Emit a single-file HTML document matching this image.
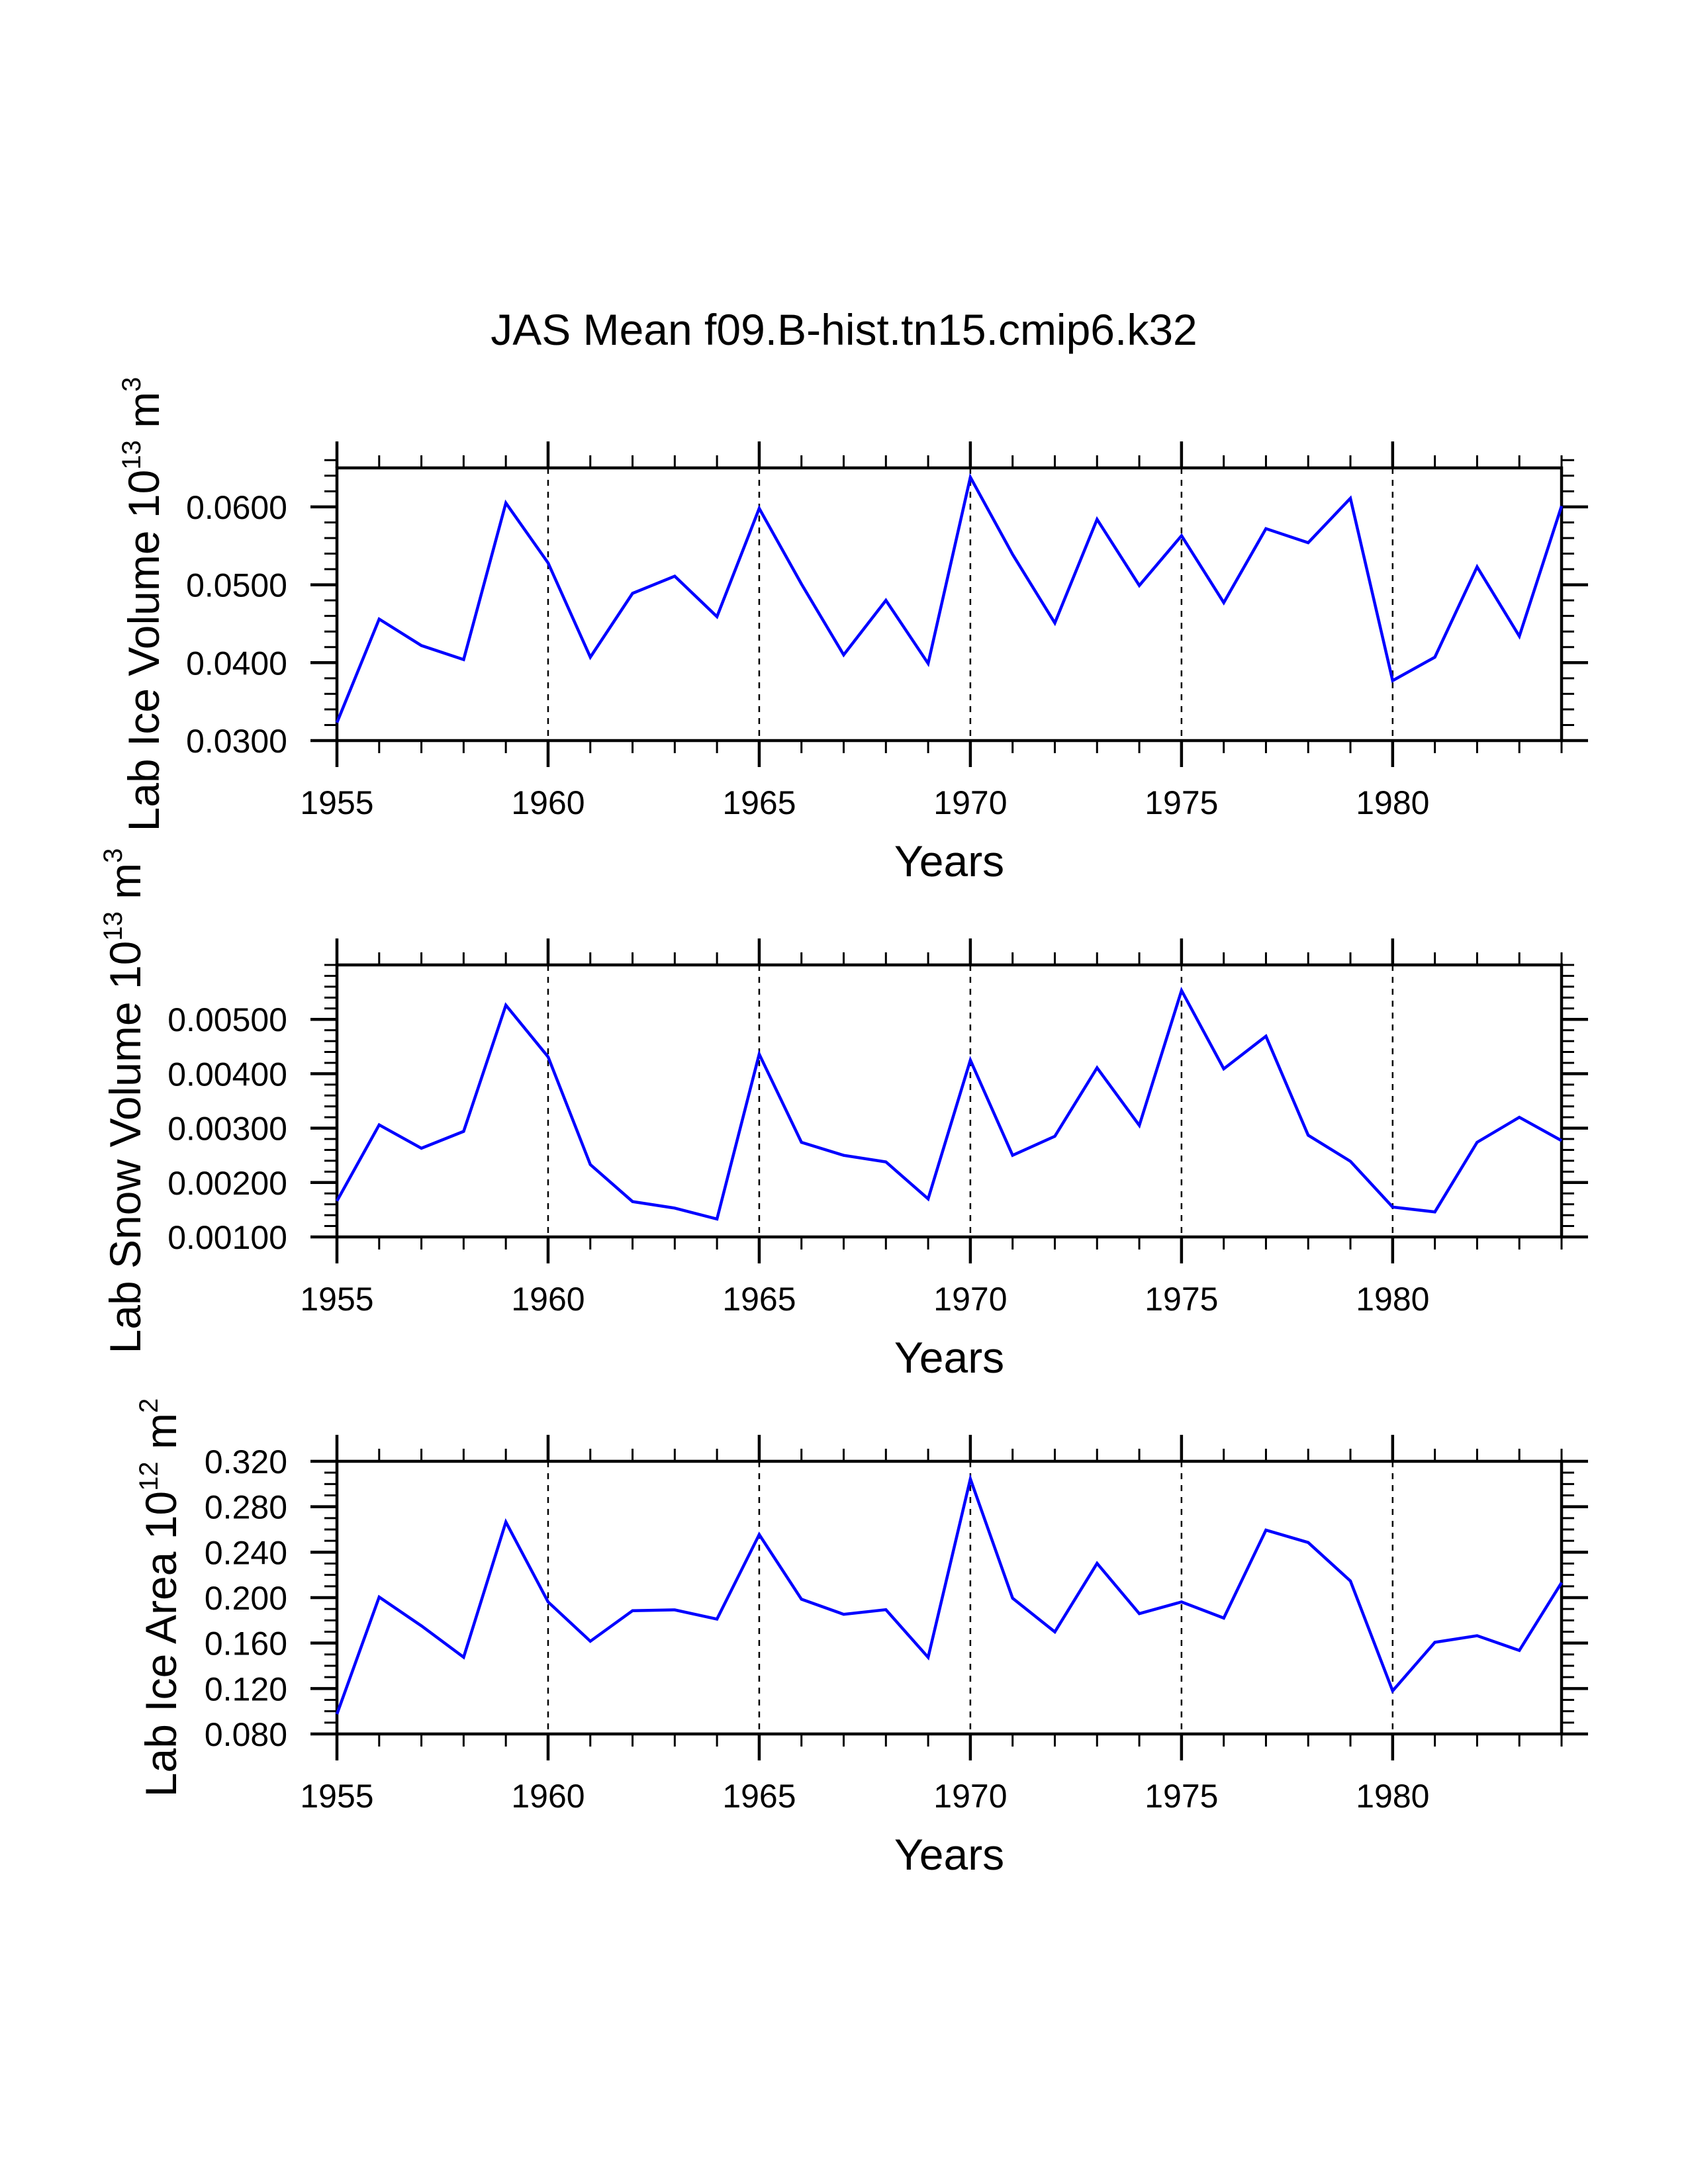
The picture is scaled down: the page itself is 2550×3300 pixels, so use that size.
<!DOCTYPE html>
<html><head><meta charset="utf-8"><style>
html,body{margin:0;padding:0;background:#fff;}
svg{display:block;font-family:"Liberation Sans",Arial,sans-serif;}
</style></head><body>
<svg id="chart" width="2550" height="3300" viewBox="0 0 2550 3300" xmlns="http://www.w3.org/2000/svg">
<rect width="2550" height="3300" fill="#fff"/>
<text x="1275" y="521" font-size="66" text-anchor="middle">JAS Mean f09.B-hist.tn15.cmip6.k32</text>
</svg>
<script>
const years = [1955,1956,1957,1958,1959,1960,1961,1962,1963,1964,1965,1966,1967,1968,1969,1970,1971,1972,1973,1974,1975,1976,1977,1978,1979,1980,1981,1982,1983,1984];
const iceVolume = [0.0323,0.0456,0.0422,0.0404,0.0605,0.0528,0.0407,0.0489,0.0511,0.0459,0.0598,0.0501,0.0410,0.0480,0.0399,0.0638,0.0539,0.0451,0.0584,0.0499,0.0563,0.0477,0.0572,0.0554,0.0611,0.0377,0.0407,0.0523,0.0434,0.0601];
const snowVolume = [0.00166,0.00306,0.00263,0.00294,0.00526,0.00431,0.00233,0.00165,0.00153,0.00133,0.00436,0.00274,0.00250,0.00238,0.00170,0.00425,0.00250,0.00285,0.00411,0.00305,0.00553,0.00409,0.00469,0.00287,0.00239,0.00155,0.00146,0.00274,0.00320,0.00277];
const iceArea = [0.0975,0.2005,0.1752,0.1476,0.2666,0.1962,0.1616,0.1885,0.1892,0.1811,0.2555,0.1986,0.1853,0.1894,0.1474,0.3045,0.1995,0.1698,0.2302,0.1859,0.1962,0.1820,0.2594,0.2485,0.2147,0.1179,0.1607,0.1665,0.1535,0.2132];
const xMajorTicks = [1955,1960,1965,1970,1975,1980];
const iceVolumeTicks = [0.03,0.04,0.05,0.06];
const snowVolumeTicks = [0.001,0.002,0.003,0.004,0.005];
const iceAreaTicks = [0.08,0.12,0.16,0.20,0.24,0.28,0.32];

const NS="http://www.w3.org/2000/svg";
const svg=document.getElementById('chart');
const X0=509, X1=2359, YR0=1955, YR1=1984;
function xs(yr){return X0+(yr-YR0)/(YR1-YR0)*(X1-X0);}
function mk(tag,attrs,parent){const e=document.createElementNS(NS,tag);for(const k in attrs)e.setAttribute(k,attrs[k]);(parent||svg).appendChild(e);return e;}

const panels=[
 {key:'ice-volume',top:707,bot:1119,min:0.03,max:0.065,minor:0.002,ticks:iceVolumeTicks,dec:4,data:iceVolume,lx:240,lab:['Lab Ice Volume 10','13',' m','3']},
 {key:'snow-volume',top:1458,bot:1869,min:0.001,max:0.006,minor:0.0002,ticks:snowVolumeTicks,dec:5,data:snowVolume,lx:212,lab:['Lab Snow Volume 10','13',' m','3']},
 {key:'ice-area',top:2208,bot:2620,min:0.08,max:0.32,minor:0.01,ticks:iceAreaTicks,dec:3,data:iceArea,lx:266,lab:['Lab Ice Area 10','12',' m','2']}
];

panels.forEach(p=>{
 const g=mk('g',{});
 
 
 const ys=v=>p.bot-(v-p.min)/(p.max-p.min)*(p.bot-p.top);
 xMajorTicks.slice(1).forEach(yr=>{
  const l=mk('line',{x1:xs(yr),x2:xs(yr),y1:p.top,y2:p.bot,stroke:'#000','stroke-width':2.5,'stroke-dasharray':'9 9'},g);
  
  
 });
 for(let yr=YR0;yr<=YR1;yr++){
  const major=xMajorTicks.indexOf(yr)>=0, len=major?40:19, w=major?4.5:3;
  mk('line',{x1:xs(yr),x2:xs(yr),y1:p.bot,y2:p.bot+len,stroke:'#000','stroke-width':w},g);
  mk('line',{x1:xs(yr),x2:xs(yr),y1:p.top,y2:p.top-len,stroke:'#000','stroke-width':w},g);
 }
 xMajorTicks.forEach(yr=>{
  const t=mk('text',{x:xs(yr),y:p.bot+111,'font-size':50,'text-anchor':'middle'},g);
  t.textContent=String(yr);
  
  
 });
 const n=Math.round((p.max-p.min)/p.minor);
 for(let i=0;i<=n;i++){
  const v=p.min+i*p.minor, y=ys(v);
  mk('line',{x1:X0,x2:X0-19,y1:y,y2:y,stroke:'#000','stroke-width':3},g);
  mk('line',{x1:X1,x2:X1+19,y1:y,y2:y,stroke:'#000','stroke-width':3},g);
 }
 p.ticks.forEach(v=>{
  const y=ys(v);
  mk('line',{x1:X0,x2:X0-40,y1:y,y2:y,stroke:'#000','stroke-width':4.5},g);
  mk('line',{x1:X1,x2:X1+40,y1:y,y2:y,stroke:'#000','stroke-width':4.5},g);
  const t=mk('text',{x:434,y:y+18,'font-size':50,'text-anchor':'end'},g);
  t.textContent=v.toFixed(p.dec);
  
  
 });
 const fr=mk('rect',{x:X0,y:p.top,width:X1-X0,height:p.bot-p.top,fill:'none',stroke:'#000','stroke-width':4.5},g);
 
 
 const pts=years.map((yr,i)=>xs(yr).toFixed(1)+','+ys(p.data[i]).toFixed(1)).join(' ');
 const pl=mk('polyline',{points:pts,fill:'none',stroke:'#0000ff','stroke-width':4.5,'stroke-linejoin':'miter'},g);
 
 
 const xt=mk('text',{x:1434,y:p.bot+205,'font-size':66,'text-anchor':'middle'},g);
 xt.textContent='Years';
 
 
 const cy=(p.top+p.bot)/2;
 const yt=mk('text',{x:0,y:0,'font-size':66,'text-anchor':'middle',transform:'translate('+p.lx+','+cy+') rotate(-90)'},g);
 
 
 const s1=mk('tspan',{},yt);s1.textContent=p.lab[0];
 const s2=mk('tspan',{'font-size':40,dy:-28},yt);s2.textContent=p.lab[1];
 const s3=mk('tspan',{dy:28},yt);s3.textContent=p.lab[2];
 const s4=mk('tspan',{'font-size':40,dy:-28},yt);s4.textContent=p.lab[3];
});
</script>
</body></html>
